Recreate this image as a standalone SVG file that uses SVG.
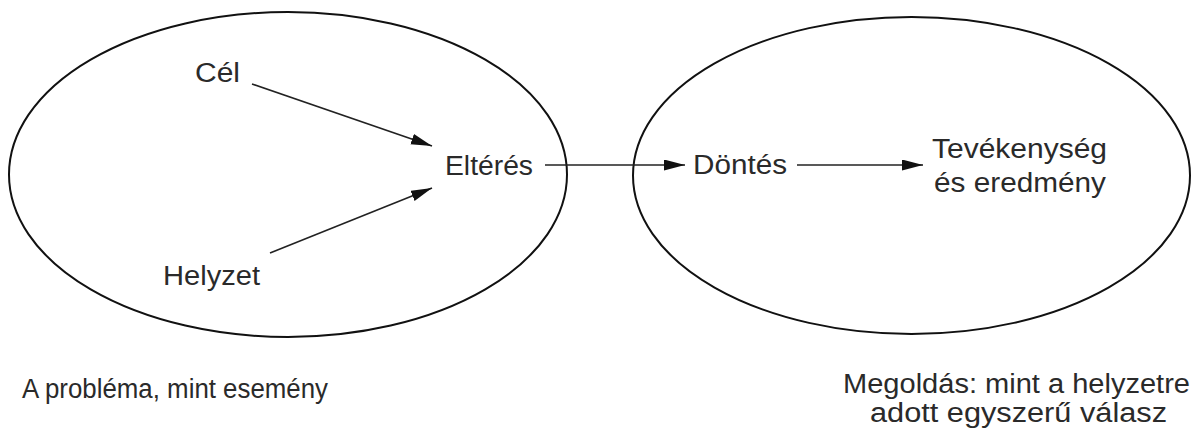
<svg xmlns="http://www.w3.org/2000/svg" width="1197" height="431" viewBox="0 0 1197 431">
<defs>
<style>
.t{font-family:"Liberation Sans",Arial,sans-serif;font-size:27px;fill:#2a2a2a}
.e{fill:none;stroke:#111;stroke-width:2}
.c{fill:none;stroke:#222;stroke-width:1.6}
</style>
<marker id="ah" markerUnits="userSpaceOnUse" markerWidth="22" markerHeight="12" refX="21" refY="5.5" orient="auto">
<path d="M0,0 L21,5.5 L0,11 z" fill="#111"/>
</marker>
</defs>
<rect width="1197" height="431" fill="#fff"/>
<g id="problem">
<ellipse class="e" cx="288" cy="174.5" rx="279" ry="162.5"/>
</g>
<g id="solution">
<ellipse class="e" cx="911.5" cy="175.5" rx="278.5" ry="158.5"/>
</g>
<g id="cel"><text class="t" x="195" y="82" textLength="45" lengthAdjust="spacingAndGlyphs">Cél</text></g>
<g id="helyzet"><text class="t" x="163" y="285" textLength="97" lengthAdjust="spacingAndGlyphs">Helyzet</text></g>
<g id="elteres"><text class="t" x="445" y="175" textLength="88" lengthAdjust="spacingAndGlyphs">Eltérés</text></g>
<g id="dontes"><text class="t" x="693" y="174" textLength="94" lengthAdjust="spacingAndGlyphs">Döntés</text></g>
<g id="tevekenyseg">
<text class="t" x="932" y="158" textLength="175" lengthAdjust="spacingAndGlyphs">Tevékenység</text>
<text class="t" x="934" y="192" textLength="172" lengthAdjust="spacingAndGlyphs">és eredmény</text>
</g>
<g id="label-problem"><text class="t" x="22" y="398" textLength="306" lengthAdjust="spacingAndGlyphs">A probléma, mint esemény</text></g>
<g id="label-solution">
<text class="t" x="843" y="393" textLength="347" lengthAdjust="spacingAndGlyphs">Megoldás: mint a helyzetre</text>
<text class="t" x="870" y="422" textLength="297" lengthAdjust="spacingAndGlyphs">adott egyszerű válasz</text>
</g>
<g id="connectors">
<line class="c" x1="252" y1="84" x2="432" y2="146" marker-end="url(#ah)"/>
<line class="c" x1="270" y1="253" x2="432" y2="188" marker-end="url(#ah)"/>
<line class="c" x1="545" y1="165" x2="685" y2="165" marker-end="url(#ah)"/>
<line class="c" x1="797" y1="165" x2="923" y2="165" marker-end="url(#ah)"/>
</g>
</svg>
